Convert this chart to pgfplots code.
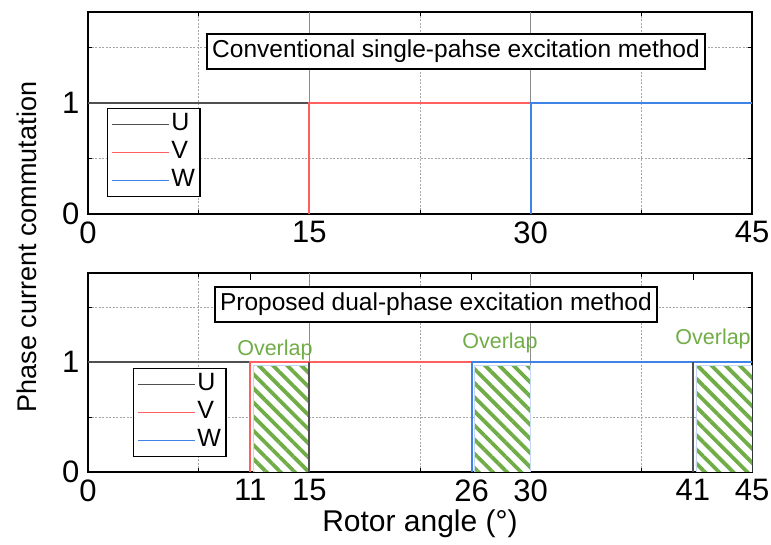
\documentclass[border=0pt]{standalone}
\usepackage{pgfplots}
\pgfplotsset{compat=1.18}
\usepackage{fontspec}
\setmainfont{Liberation Sans}
\usetikzlibrary{patterns.meta}
\definecolor{ucol}{HTML}{505050}
\definecolor{vcol}{HTML}{FF5F5F}
\definecolor{wcol}{HTML}{3F83E6}
\definecolor{ovg}{HTML}{70AD47}
\definecolor{hbord}{HTML}{C5DAF2}
\definecolor{gridc}{HTML}{8C8C8C}
\pgfplotsset{
 mystyle/.style={
  scale only axis, width=664pt,
  xmin=0, xmax=45, ymin=0, ymax=1.82,
  ytick={0,1}, minor ytick={0.5,1.5},
  minor xtick={7.5,22.5,37.5},
  tick align=inside, major tick length=7pt, minor tick length=4pt,
  grid=minor,
  minor grid style={gray!70, dash pattern=on 2pt off 1.5pt, line width=0.6pt},
  extra x ticks={15,30}, extra x tick labels={},
  extra x tick style={grid=major, major grid style={gridc, line width=1pt}, major tick length=0pt},
  axis line style={line width=1.2pt},
  tick style={line width=0.8pt, black},
  /pgf/number format/assume math mode=true,
  tick label style={font=\fontsize{31}{34}\selectfont},
  xticklabel style={yshift=-4pt},
  yticklabel style={xshift=-5pt},
  legend cell align=left,
  legend style={draw=black, line width=1.3pt, fill=white, font=\fontsize{25}{28}\selectfont,
    inner xsep=3pt, inner ysep=2pt, row sep=0pt,
    nodes={inner sep=2pt, text height=18pt, text depth=6pt}},
  legend image code/.code={\draw[#1, line width=1.8pt] (0pt,0pt) -- (57pt,0pt);},
 }
}
\begin{document}
\begin{tikzpicture}
\useasboundingbox (0,0) rectangle (771pt,545pt);
% top axis
\begin{axis}[mystyle, height=202pt, at={(88pt,331pt)}, anchor=south west,
  xtick={0,15,30,45},
  legend style={at={(0.0286,0.525)}, anchor=north west}]
\addplot[ucol, line width=1.8pt] coordinates {(0,1) (15,1)};
\addplot[vcol, line width=1.8pt] coordinates {(15,0) (15,1) (30,1)};
\addplot[wcol, line width=1.8pt] coordinates {(30,0) (30,1) (45,1)};
\legend{U,V,W}
\node[draw=black, line width=1.5pt, fill=white, inner xsep=5pt, inner ysep=6pt,
  font=\fontsize{24.5}{27}\selectfont] at (axis cs:24.94,1.464) {Conventional single-pahse excitation method};
\end{axis}
% bottom axis
\begin{axis}[mystyle, height=199pt, ymax=1.81, at={(88pt,73pt)}, anchor=south west,
  xtick={0,11,15,26,30,41,45},
  legend style={at={(0.0678,0.523)}, anchor=north west},
  xlabel={Rotor angle (°)},
  xlabel style={font=\fontsize{30}{33}\selectfont, at={(axis description cs:0.5,0)}, anchor=center, yshift=-52pt}]
\addplot[ucol, line width=1.8pt] coordinates {(0,1) (15,1)};
\addplot[vcol, line width=1.8pt] coordinates {(11,0) (11,1) (30,1)};
\addplot[wcol, line width=1.8pt] coordinates {(26,0) (26,1) (45,1)};
\legend{U,V,W}
\addplot[forget plot, draw=hbord, line width=0.6pt, fill=white,
  postaction={pattern={Lines[angle=-45,distance=10pt,line width=3.8pt]}, pattern color=ovg}]
  coordinates {(11.2,0) (11.2,0.97) (15,0.97) (15,0)} --cycle;
\addplot[forget plot, draw=hbord, line width=0.6pt, fill=white,
  postaction={pattern={Lines[angle=-45,distance=10pt,line width=3.8pt]}, pattern color=ovg}]
  coordinates {(26.2,0) (26.2,0.97) (30,0.97) (30,0)} --cycle;
\addplot[forget plot, draw=hbord, line width=0.6pt, fill=white,
  postaction={pattern={Lines[angle=-45,distance=10pt,line width=3.8pt]}, pattern color=ovg}]
  coordinates {(41.2,0) (41.2,0.97) (45,0.97) (45,0)} --cycle;
\addplot[forget plot, ucol, line width=1.8pt] coordinates {(15,0) (15,1)};
\addplot[forget plot, ucol, line width=1.8pt] coordinates {(41,0) (41,1)};
\node[draw=black, line width=1.5pt, fill=white, inner xsep=5pt, inner ysep=6pt,
  font=\fontsize{24.5}{27}\selectfont] at (axis cs:23.58,1.523) {Proposed dual-phase excitation method};
\node[text=ovg, font=\fontsize{21.5}{24}\selectfont] at (axis cs:12.67,1.11) {Overlap};
\node[text=ovg, font=\fontsize{21.5}{24}\selectfont] at (axis cs:27.92,1.17) {Overlap};
\node[text=ovg, font=\fontsize{21.5}{24}\selectfont] at (axis cs:42.36,1.21) {Overlap};
\end{axis}
\node[rotate=90, font=\fontsize{27}{30}\selectfont] at (27pt,298pt) {Phase current commutation};
\end{tikzpicture}
\end{document}
